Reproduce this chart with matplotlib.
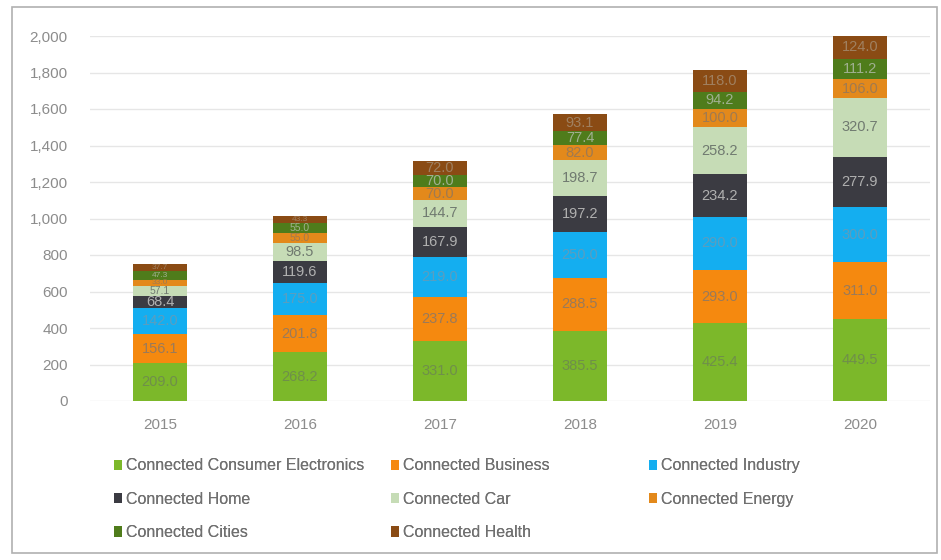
import matplotlib.pyplot as plt
from matplotlib.patches import Rectangle
import numpy as np

plt.rcParams['font.family'] = ['Liberation Sans', 'DejaVu Sans']

years = ['2015', '2016', '2017', '2018', '2019', '2020']

segments = ['Connected Consumer Electronics', 'Connected Business', 'Connected Industry',
            'Connected Home', 'Connected Car', 'Connected Energy',
            'Connected Cities', 'Connected Health']

consumer_electronics = [209.0, 268.2, 331.0, 385.5, 425.4, 449.5]
business = [156.1, 201.8, 237.8, 288.5, 293.0, 311.0]
industry = [142.0, 175.0, 219.0, 250.0, 290.0, 300.0]
home = [68.4, 119.6, 167.9, 197.2, 234.2, 277.9]
car = [57.1, 98.5, 144.7, 198.7, 258.2, 320.7]
energy = [33.0, 55.0, 70.0, 82.0, 100.0, 106.0]
cities = [47.3, 55.0, 70.0, 77.4, 94.2, 111.2]
health = [37.7, 43.3, 72.0, 93.1, 118.0, 124.0]

series = [consumer_electronics, business, industry, home, car, energy, cities, health]
colors = ['#7cb82a', '#f5890f', '#14aef0', '#3b3b42', '#c6dcb6', '#e3891b', '#4f7c1b', '#8a4b14']
label_colors = ['#6f8f4a', '#9a7a5a', '#5a9ec0', '#b0b0b0', '#707a70', '#a07a50', '#a0b090', '#a08060']

fig = plt.figure(figsize=(9.41, 5.6), dpi=100)
ax = fig.add_axes([90 / 941, 1 - 401 / 560, 840 / 941, 365 / 560])

x = np.arange(len(years))
bottom = np.zeros(len(years))
for vals, col, lcol, name in zip(series, colors, label_colors, segments):
    vals = np.array(vals)
    ax.bar(x, vals, width=0.39, bottom=bottom, color=col, label=name, zorder=2)
    for xi, b, v in zip(x, bottom, vals):
        # thin segments get a smaller label so the stack stays legible
        if v >= 60:
            fs = 10.5
        elif v >= 50:
            fs = 7.5
        else:
            fs = 6
        ax.text(xi, b + v / 2, f'{v:.1f}', ha='center', va='center',
                fontsize=fs, color=lcol, zorder=3)
    bottom += vals

ax.set_xlim(-0.5, 5.5)
ax.set_ylim(0, 2000)
ax.set_yticks(range(0, 2001, 200))
ax.set_yticklabels([f'{v:,}' for v in range(0, 2001, 200)])
ax.set_xticks(x)
ax.set_xticklabels(years)
ax.yaxis.grid(True, color='#e6e6e6', linewidth=1, zorder=0)
ax.tick_params(axis='both', length=0, colors='#8c8c8c', labelsize=11)
ax.tick_params(axis='x', pad=12)
ax.tick_params(axis='y', pad=16)
for s in ax.spines.values():
    s.set_visible(False)

# legend: one legend per column, rows as in the stacked order
handles, labels = ax.get_legend_handles_labels()
columns = [([0, 3, 6], 108), ([1, 4, 7], 385), ([2, 5], 643)]
for idx, left in columns:
    leg = fig.legend([handles[i] for i in idx], [labels[i] for i in idx],
                     loc='upper left', bbox_to_anchor=(left / 941, 1 - 452 / 560),
                     frameon=False, fontsize=11.5, labelcolor='#707070',
                     handlelength=0.45, handleheight=0.6, handletextpad=0.3,
                     labelspacing=1.15, borderaxespad=0)
    fig.add_artist(leg)

fig.patches.append(Rectangle((12 / 941, 7 / 560), 925 / 941, 546 / 560,
                             transform=fig.transFigure, fill=False,
                             edgecolor='#b0b0b0', linewidth=1.2))

fig.savefig('out.png', dpi=100)
